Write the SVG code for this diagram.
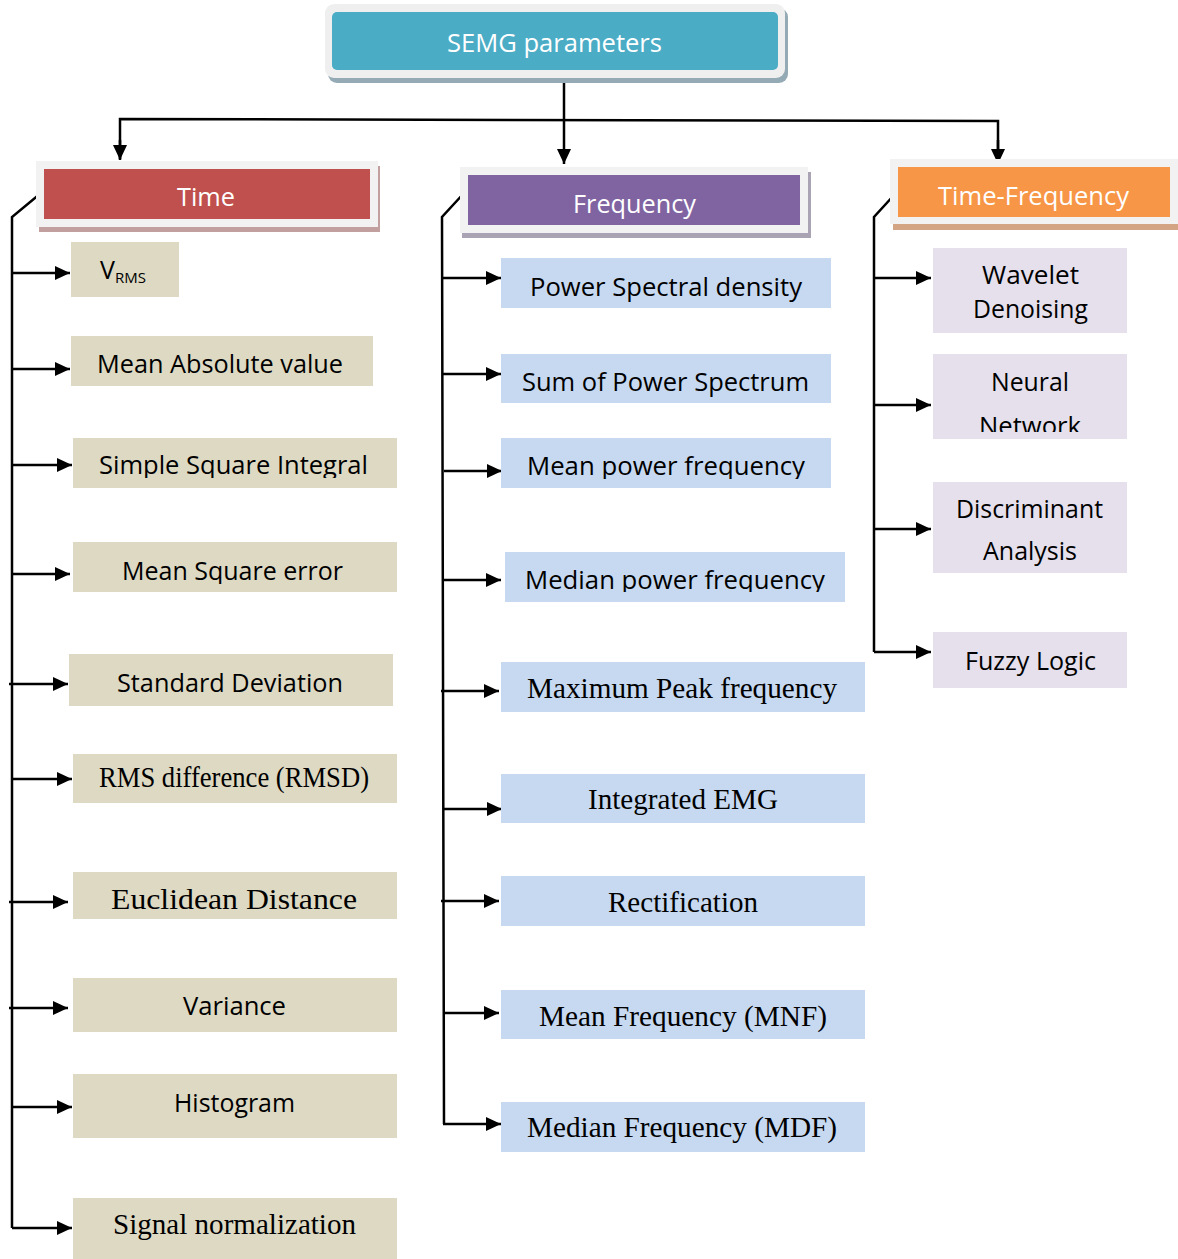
<svg xmlns="http://www.w3.org/2000/svg" width="1178" height="1259" viewBox="0 0 1178 1259">
<style>
.s{font-family:"Open Sans","Liberation Sans",sans-serif;font-size:25px;fill:#000;text-anchor:start}
.r{font-family:"Liberation Serif","Times New Roman",serif;font-size:29px;fill:#000;text-anchor:start}
.w{fill:#fff}
.tan{fill:#DDD9C3}
.blu{fill:#C6D9F1}
.lav{fill:#E5E0EC}
.frame{fill:#F2F2F2}
.ln{fill:none;stroke:#000;stroke-width:2.5}
</style>
<defs>
<marker id="ah" markerUnits="userSpaceOnUse" markerWidth="16" markerHeight="14" refX="15" refY="7" orient="auto">
<path d="M0,0 L15,7 L0,14 z" fill="#000"/>
</marker>
<clipPath id="cFreq"><rect x="468" y="175" width="332" height="50"/></clipPath>
<clipPath id="cTF"><rect x="898" y="167" width="272" height="50"/></clipPath>
<clipPath id="cPSD"><rect x="501" y="258" width="330" height="49"/></clipPath>
<clipPath id="cSSI"><rect x="73" y="438" width="324" height="40"/></clipPath>
<clipPath id="cMSE"><rect x="73" y="542" width="324" height="42"/></clipPath>
<clipPath id="cMPF"><rect x="501" y="438" width="330" height="41"/></clipPath>
<clipPath id="cMdPF"><rect x="505" y="552" width="340" height="40"/></clipPath>
<clipPath id="cDen"><rect x="933" y="248" width="194" height="76"/></clipPath>
<clipPath id="cNet"><rect x="933" y="354" width="194" height="78"/></clipPath>
</defs>

<g id="connectors">
<line class="ln" x1="564" y1="83" x2="564" y2="164" marker-end="url(#ah)"/>
<path class="ln" d="M120,159 L120,119 L998,121 L998,163"/>
<line class="ln" x1="120" y1="140" x2="120" y2="160" marker-end="url(#ah)"/>
<line class="ln" x1="998" y1="140" x2="998" y2="164" marker-end="url(#ah)"/>
<!-- time trunk -->
<path class="ln" d="M41,193 L12,217 L12,1228"/>
<line class="ln" x1="12" y1="273" x2="70" y2="273" marker-end="url(#ah)"/>
<line class="ln" x1="12" y1="369" x2="70" y2="369" marker-end="url(#ah)"/>
<line class="ln" x1="12" y1="465" x2="72" y2="465" marker-end="url(#ah)"/>
<line class="ln" x1="12" y1="574" x2="70" y2="574" marker-end="url(#ah)"/>
<line class="ln" x1="9" y1="684" x2="68" y2="684" marker-end="url(#ah)"/>
<line class="ln" x1="12" y1="779" x2="72" y2="779" marker-end="url(#ah)"/>
<line class="ln" x1="9" y1="902" x2="68" y2="902" marker-end="url(#ah)"/>
<line class="ln" x1="9" y1="1008" x2="68" y2="1008" marker-end="url(#ah)"/>
<line class="ln" x1="12" y1="1107" x2="72" y2="1107" marker-end="url(#ah)"/>
<line class="ln" x1="12" y1="1228" x2="72" y2="1228" marker-end="url(#ah)"/>
<!-- frequency trunk -->
<path class="ln" d="M465,192 L442,217 L444,1124"/>
<line class="ln" x1="443" y1="278" x2="501" y2="278" marker-end="url(#ah)"/>
<line class="ln" x1="443" y1="374" x2="501" y2="374" marker-end="url(#ah)"/>
<line class="ln" x1="444" y1="471" x2="502" y2="471" marker-end="url(#ah)"/>
<line class="ln" x1="443" y1="580" x2="501" y2="580" marker-end="url(#ah)"/>
<line class="ln" x1="441" y1="691" x2="499" y2="691" marker-end="url(#ah)"/>
<line class="ln" x1="444" y1="809" x2="502" y2="809" marker-end="url(#ah)"/>
<line class="ln" x1="441" y1="901" x2="499" y2="901" marker-end="url(#ah)"/>
<line class="ln" x1="444" y1="1013" x2="499" y2="1013" marker-end="url(#ah)"/>
<line class="ln" x1="443" y1="1124" x2="501" y2="1124" marker-end="url(#ah)"/>
<!-- time-frequency trunk -->
<path class="ln" d="M895,194 L874,217 L874,652"/>
<line class="ln" x1="874" y1="278" x2="931" y2="278" marker-end="url(#ah)"/>
<line class="ln" x1="874" y1="405" x2="931" y2="405" marker-end="url(#ah)"/>
<line class="ln" x1="874" y1="529" x2="931" y2="529" marker-end="url(#ah)"/>
<line class="ln" x1="874" y1="652" x2="931" y2="652" marker-end="url(#ah)"/>
</g>

<g id="root">
<rect x="328" y="8" width="460" height="75" rx="9" fill="#94AAB4"/>
<rect x="325" y="4" width="460" height="74" rx="9" fill="#EFEFEF"/>
<rect x="332" y="12" width="446" height="58" rx="5" fill="#4BACC6"/>
<text class="s w" x="447" y="52" font-size="26" textLength="215" lengthAdjust="spacingAndGlyphs">SEMG parameters</text>
</g>

<g id="time">
<rect x="39" y="166" width="341" height="66" fill="#C3A0A0"/>
<rect class="frame" x="36" y="161" width="342" height="66"/>
<rect x="44" y="169" width="326" height="50" fill="#C0504D"/>
<text class="s w" x="177" y="206" textLength="58" lengthAdjust="spacingAndGlyphs">Time</text>
</g>

<g id="frequency">
<rect x="462" y="172" width="349" height="66" fill="#A9A3B4"/>
<rect class="frame" x="460" y="167" width="348" height="66"/>
<rect x="468" y="175" width="332" height="50" fill="#8064A2"/>
<text class="s w" x="573" y="213" textLength="123" lengthAdjust="spacingAndGlyphs" clip-path="url(#cFreq)">Frequency</text>
</g>

<g id="time-frequency">
<rect x="893" y="164" width="285" height="66" fill="#D3A584"/>
<rect class="frame" x="890" y="159" width="288" height="65"/>
<rect x="898" y="167" width="272" height="50" fill="#F79646"/>
<text class="s w" x="938" y="205" textLength="191" lengthAdjust="spacingAndGlyphs" clip-path="url(#cTF)">Time-Frequency</text>
</g>

<g id="vrms"><rect class="tan" x="71" y="242" width="108" height="55"/>
<text class="s" x="100" y="279">V<tspan font-size="15" dy="4">RMS</tspan></text></g>
<g id="mav"><rect class="tan" x="71" y="336" width="302" height="50"/>
<text class="s" x="97" y="373" textLength="246" lengthAdjust="spacingAndGlyphs">Mean Absolute value</text></g>
<g id="ssi"><rect class="tan" x="73" y="438" width="324" height="50"/>
<text class="s" x="99" y="474" textLength="269" lengthAdjust="spacingAndGlyphs" clip-path="url(#cSSI)">Simple Square Integral</text></g>
<g id="mse"><rect class="tan" x="73" y="542" width="324" height="50"/>
<text class="s" x="122" y="580" textLength="221" lengthAdjust="spacingAndGlyphs" clip-path="url(#cMSE)">Mean Square error</text></g>
<g id="std"><rect class="tan" x="69" y="654" width="324" height="52"/>
<text class="s" x="117" y="692" textLength="226" lengthAdjust="spacingAndGlyphs">Standard Deviation</text></g>
<g id="rmsd"><rect class="tan" x="73" y="754" width="324" height="49"/>
<text class="r" x="99" y="787" font-size="26.6" textLength="270" lengthAdjust="spacingAndGlyphs">RMS difference (RMSD)</text></g>
<g id="euclid"><rect class="tan" x="73" y="872" width="324" height="47"/>
<text class="r" x="111" y="909" font-size="31.7" textLength="246" lengthAdjust="spacingAndGlyphs">Euclidean Distance</text></g>
<g id="variance"><rect class="tan" x="73" y="978" width="324" height="54"/>
<text class="s" x="183" y="1015" textLength="103" lengthAdjust="spacingAndGlyphs">Variance</text></g>
<g id="histogram"><rect class="tan" x="73" y="1074" width="324" height="64"/>
<text class="s" x="174" y="1112" textLength="121" lengthAdjust="spacingAndGlyphs">Histogram</text></g>
<g id="signorm"><rect class="tan" x="73" y="1198" width="324" height="61"/>
<text class="r" x="113" y="1234" textLength="243" lengthAdjust="spacingAndGlyphs">Signal normalization</text></g>

<g id="psd"><rect class="blu" x="501" y="258" width="330" height="50"/>
<text class="s" x="530" y="296" textLength="272" lengthAdjust="spacingAndGlyphs" clip-path="url(#cPSD)">Power Spectral density</text></g>
<g id="sops"><rect class="blu" x="501" y="354" width="330" height="49"/>
<text class="s" x="522" y="391" textLength="287" lengthAdjust="spacingAndGlyphs">Sum of Power Spectrum</text></g>
<g id="mpf"><rect class="blu" x="501" y="438" width="330" height="50"/>
<text class="s" x="527" y="475" textLength="278" lengthAdjust="spacingAndGlyphs" clip-path="url(#cMPF)">Mean power frequency</text></g>
<g id="mdpf"><rect class="blu" x="505" y="552" width="340" height="50"/>
<text class="s" x="525" y="589" textLength="300" lengthAdjust="spacingAndGlyphs" clip-path="url(#cMdPF)">Median power frequency</text></g>
<g id="mpkf"><rect class="blu" x="501" y="662" width="364" height="50"/>
<text class="r" x="527" y="698" textLength="310" lengthAdjust="spacingAndGlyphs">Maximum Peak frequency</text></g>
<g id="iemg"><rect class="blu" x="501" y="774" width="364" height="49"/>
<text class="r" x="588" y="809" textLength="190" lengthAdjust="spacingAndGlyphs">Integrated EMG</text></g>
<g id="rect"><rect class="blu" x="501" y="876" width="364" height="50"/>
<text class="r" x="608" y="912" textLength="150" lengthAdjust="spacingAndGlyphs">Rectification</text></g>
<g id="mnf"><rect class="blu" x="501" y="990" width="364" height="49"/>
<text class="r" x="539" y="1026" textLength="288" lengthAdjust="spacingAndGlyphs">Mean Frequency (MNF)</text></g>
<g id="mdf"><rect class="blu" x="501" y="1102" width="364" height="50"/>
<text class="r" x="527" y="1137" textLength="310" lengthAdjust="spacingAndGlyphs">Median Frequency (MDF)</text></g>

<g id="wavelet"><rect class="lav" x="933" y="248" width="194" height="85"/>
<text class="s" x="982" y="284" textLength="97" lengthAdjust="spacingAndGlyphs">Wavelet</text>
<text class="s" x="973" y="318" textLength="115" lengthAdjust="spacingAndGlyphs" clip-path="url(#cDen)">Denoising</text></g>
<g id="neural"><rect class="lav" x="933" y="354" width="194" height="85"/>
<text class="s" x="991" y="391" textLength="78" lengthAdjust="spacingAndGlyphs">Neural</text>
<text class="s" x="979" y="435" textLength="102" lengthAdjust="spacingAndGlyphs" clip-path="url(#cNet)">Network</text></g>
<g id="discriminant"><rect class="lav" x="933" y="482" width="194" height="91"/>
<text class="s" x="956" y="518" textLength="147" lengthAdjust="spacingAndGlyphs">Discriminant</text>
<text class="s" x="983" y="560" textLength="94" lengthAdjust="spacingAndGlyphs">Analysis</text></g>
<g id="fuzzy"><rect class="lav" x="933" y="632" width="194" height="56"/>
<text class="s" x="965" y="670" textLength="131" lengthAdjust="spacingAndGlyphs">Fuzzy Logic</text></g>
</svg>
